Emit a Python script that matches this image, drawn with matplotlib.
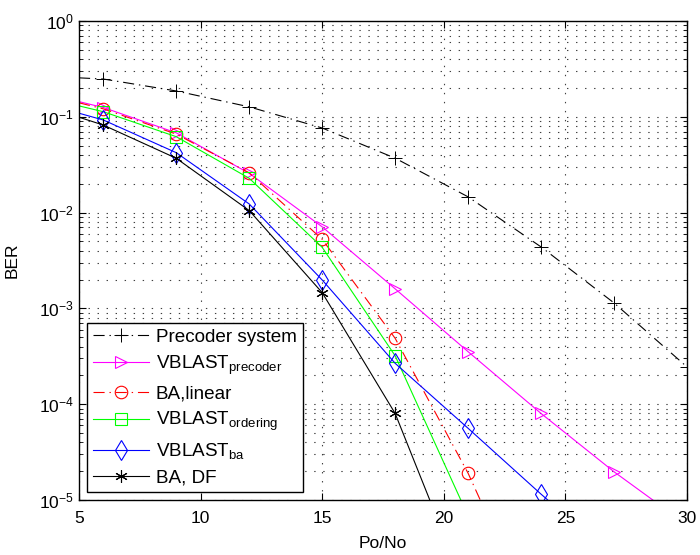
import matplotlib
matplotlib.use("Agg")
import matplotlib.pyplot as plt
from matplotlib.ticker import LogLocator, FixedLocator, NullFormatter

plt.rcParams['font.family'] = ['Liberation Sans', 'DejaVu Sans']
plt.rcParams['mathtext.fontset'] = 'custom'
plt.rcParams['mathtext.rm'] = 'Liberation Sans'
plt.rcParams['mathtext.it'] = 'Liberation Sans:italic'
plt.rcParams['lines.scale_dashes'] = False

# Data (x = Po/No in dB)
x_prec = [5, 6, 9, 12, 15, 18, 21, 24, 27, 30]
ber_precoder_system = [0.255, 0.248, 0.186, 0.127, 0.0764, 0.037, 0.0146, 0.00438, 0.00114, 0.000245]

x_vp = [5, 6, 9, 12, 15, 18, 21, 24, 27, 30]
ber_vblast_precoder = [0.144, 0.125, 0.068, 0.0257, 0.0071, 0.0016, 0.000353, 8.0e-5, 1.97e-5, 5.5e-6]

x_bal = [5, 6, 9, 12, 15, 18, 21, 24]
ber_ba_linear = [0.14, 0.121, 0.066, 0.026, 0.00526, 0.000487, 1.9e-5, 4e-7]

x_vo = [5, 6, 9, 12, 15, 18, 21]
ber_vblast_ordering = [0.13, 0.113, 0.062, 0.0228, 0.00434, 0.00032, 6.8e-6]

x_vba = [5, 6, 9, 12, 15, 18, 21, 24, 27]
ber_vblast_ba = [0.109, 0.0926, 0.0422, 0.0123, 0.00198, 0.000267, 5.6e-5, 1.15e-5, 2.5e-6]

x_df = [5, 6, 9, 12, 15, 18, 21]
ber_ba_df = [0.099, 0.082, 0.0369, 0.0105, 0.00146, 8.0e-5, 1.0e-6]

labels = ['Precoder system',
          r'VBLAST$_\mathregular{precoder}$',
          'BA,linear',
          r'VBLAST$_\mathregular{ordering}$',
          r'VBLAST$_\mathregular{ba}$',
          'BA, DF']

fig = plt.figure(figsize=(7.0, 5.55), dpi=100)
ax = fig.add_axes([79/700, 1-500/555, 608/700, 479/555])

lw = 0.8
dashdot = (0, (8, 3.5, 1.0, 3.5))
mk = slice(1, None)
asterisk = (6, 2, 0)

ax.semilogy(x_prec, ber_precoder_system, color='black', linestyle=dashdot, lw=lw,
            marker='+', ms=10, mew=0.7, markevery=mk, label=labels[0])
ax.semilogy(x_vp, ber_vblast_precoder, color='#ff00ff', linestyle='-', lw=lw,
            marker='>', ms=9, mfc='none', mew=0.8, markevery=mk, label=labels[1])
ax.semilogy(x_bal, ber_ba_linear, color='red', linestyle=dashdot, lw=lw,
            marker='o', ms=9, mfc='none', mew=0.8, markevery=mk, label=labels[2])
ax.semilogy(x_vo, ber_vblast_ordering, color='#00ff00', linestyle='-', lw=lw,
            marker='s', ms=8, mfc='none', mew=0.8, markevery=mk, label=labels[3])
ax.semilogy(x_vba, ber_vblast_ba, color='blue', linestyle='-', lw=lw,
            marker='d', ms=10, mfc='none', mew=0.8, markevery=mk, label=labels[4])
ax.semilogy(x_df, ber_ba_df, color='black', linestyle='-', lw=lw,
            marker=asterisk, ms=9, mew=0.8, markevery=mk, label=labels[5])

ax.set_xlim(5, 30)
ax.set_ylim(1e-5, 1e0)
ax.xaxis.set_major_locator(FixedLocator([5, 10, 15, 20, 25, 30]))
ax.yaxis.set_major_locator(LogLocator(base=10, numticks=10))
ax.yaxis.set_minor_locator(LogLocator(base=10, subs=range(2, 10), numticks=20))
ax.yaxis.set_minor_formatter(NullFormatter())

gridstyle = (0, (1, 5.5))
ax.grid(True, which='major', axis='both', color='0.25', linestyle=gridstyle, linewidth=0.8)
ax.grid(True, which='minor', axis='y', color='0.25', linestyle=gridstyle, linewidth=0.8)

ax.tick_params(which='both', direction='in', top=True, right=True, labelsize=12.5)
ax.tick_params(which='major', length=5, width=0.8)
ax.tick_params(which='minor', length=3, width=0.6)
ax.tick_params(axis='x', pad=8)
for s in ax.spines.values():
    s.set_linewidth(1.0)

ax.set_xlabel('Po/No', fontsize=12.5, labelpad=7)
ax.set_ylabel('BER', fontsize=12.5, labelpad=14)

leg = ax.legend(loc='lower left', bbox_to_anchor=(0.0132, 0.0167), fontsize=13.6,
                fancybox=False, framealpha=1, edgecolor='black', borderpad=0.3,
                labelspacing=0.42, handlelength=3.0, handletextpad=0.35, borderaxespad=0)
leg.get_frame().set_linewidth(1.0)

fig.savefig('out.png', dpi=100)
